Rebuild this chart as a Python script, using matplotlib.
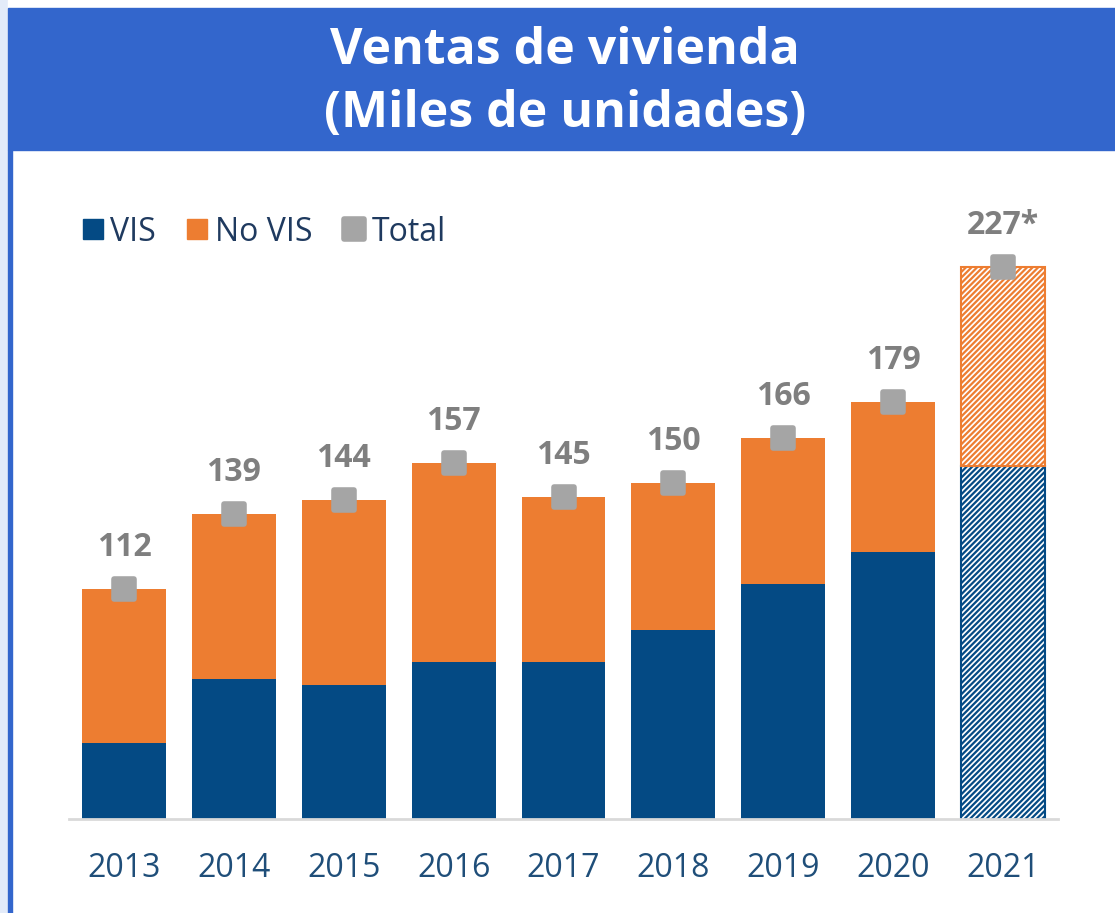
import matplotlib.pyplot as plt
from matplotlib.markers import MarkerStyle
from matplotlib.patches import Rectangle

years = ['2013', '2014', '2015', '2016', '2017', '2018', '2019', '2020', '2021']
vis = [57, 80, 78, 86, 86, 97.5, 114, 125.5, 156]
total = [112, 139, 144, 157, 145, 150, 166, 179, 227]
no_vis = [t - v for t, v in zip(total, vis)]
labels = ['112', '139', '144', '157', '145', '150', '166', '179', '227*']

plt.rcParams['font.family'] = ['Open Sans', 'DejaVu Sans']
plt.rcParams['hatch.linewidth'] = 1.6

c_vis = '#044A84'
c_novis = '#ED7D31'
c_tot = '#A5A5A5'

fig = plt.figure(figsize=(11.15, 9.13), dpi=100, facecolor='#E3EBF9')
W, H = 1115, 913
# white panel, blue banner, left blue line
fig.patches.append(Rectangle((8/W, 0), 1, 1, transform=fig.transFigure, color='white', zorder=-2))
fig.patches.append(Rectangle((8/W, 1-150/H), 1, 142/H, transform=fig.transFigure, color='#3366CC', zorder=-1))
fig.patches.append(Rectangle((8/W, 0), 4/W, 1-150/H, transform=fig.transFigure, color='#3366CC', zorder=-1))
fig.text(565/W, 1-51/H, 'Ventas de vivienda', color='white', fontsize=36, fontweight='bold', ha='center', va='center')
fig.text(565/W, 1-114/H, '(Miles de unidades)', color='white', fontsize=36, fontweight='bold', ha='center', va='center')

ax = fig.add_axes([69/W, 1-819/H, 989/W, 659/H])
ax.set_zorder(2)
ax.set_facecolor('none')
x = range(len(years))
n = len(years) - 1
ax.bar(x[:n], vis[:n], width=0.764, color=c_vis, bottom=0)
ax.bar(x[:n], no_vis[:n], width=0.764, color=c_novis, bottom=vis[:n])
ax.bar(x[n], vis[n], width=0.764, facecolor='white', edgecolor=c_vis, hatch='//////', linewidth=1.5)
ax.bar(x[n], no_vis[n], width=0.764, bottom=vis[n], facecolor='white', edgecolor=c_novis, hatch='//////', linewidth=1.5)

mk = MarkerStyle('s', joinstyle='round')
ax.plot(x, total, linestyle='none', marker=mk, markersize=15, markeredgewidth=4,
        color=c_tot, markeredgecolor=c_tot, zorder=5)
for i, t in enumerate(total):
    ax.annotate(labels[i], (i, t), xytext=(0, 30), textcoords='offset points', ha='center', va='center',
                fontsize=23, fontweight='bold', color='#7F7F7F')

ax.set_xlim(-0.5, 8.5)
ax.set_ylim(30, 30 + 659/2.8)
ax.set_xticks(list(x))
ax.set_xticklabels(years, fontsize=23, color='#1F4E79')
ax.tick_params(axis='x', length=0, pad=24)
ax.set_yticks([])
for s in ['top', 'right', 'left']:
    ax.spines[s].set_visible(False)
ax.spines['bottom'].set_color('#D9D9D9')
ax.spines['bottom'].set_linewidth(2)

h1, = ax.plot([], [], 's', color=c_vis, markersize=15)
h2, = ax.plot([], [], 's', color=c_novis, markersize=15)
h3, = ax.plot([], [], linestyle='none', marker=mk, markersize=15, markeredgewidth=4, color=c_tot)
leg = fig.legend([h1, h2, h3], ['VIS', 'No VIS', 'Total'], loc='center left',
                 bbox_to_anchor=(67/W, 1-232/H), ncol=3, frameon=False, fontsize=23,
                 handlelength=0.8, handletextpad=0.15, columnspacing=0.9, borderaxespad=0)
for t in leg.get_texts():
    t.set_color('#1F3A5F')

fig.savefig('out.png', dpi=100, facecolor=fig.get_facecolor())
